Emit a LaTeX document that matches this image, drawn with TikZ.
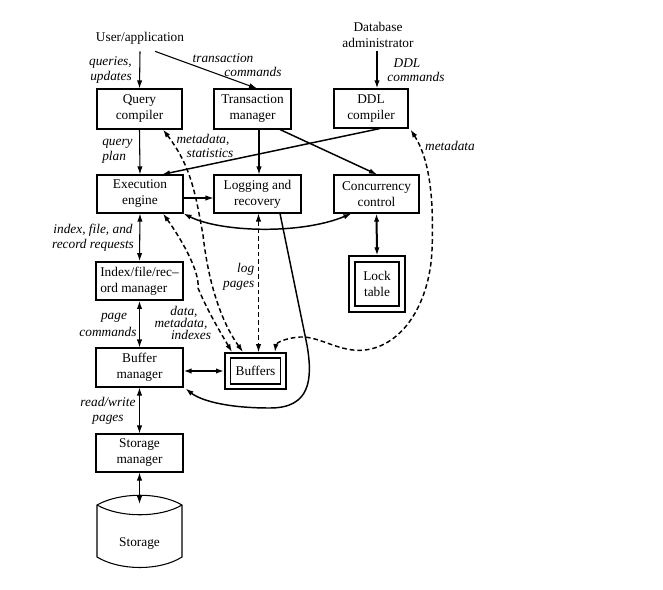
\documentclass[tikz,border=0pt]{standalone}
\usepackage{fontspec}
\setmainfont{Liberation Serif}
\usetikzlibrary{arrows.meta,calc}
\begin{document}
\begin{tikzpicture}[x=0.75pt,y=-0.75pt,
  >={Latex[length=6pt,width=4pt]},
  every node/.style={font=\fontsize{10}{12}\selectfont},
  box/.style={draw,line width=0.8pt,align=center,inner sep=0pt},
  lbl/.style={font=\fontsize{10}{11.5}\selectfont\itshape,inner sep=0pt},
  txt/.style={inner sep=0pt,align=center},
  ln/.style={line width=0.8pt},
  arr/.style={ln,->},
  marr/.style={line width=1.1pt,->},
  darr/.style={ln,<->},
  tarr/.style={line width=1.5pt,<->},
  dsh/.style={line width=1.1pt,dash pattern=on 3.5pt off 2.2pt,<->}
]
\useasboundingbox (0,0) rectangle (663,589);

% boxes
\node[box,minimum width=63.75pt,minimum height=30pt] (qc) at (139.5,109) {Query\\compiler};
\node[box,minimum width=57.75pt,minimum height=30pt] (tm) at (252.5,109) {Transaction\\manager};
\node[box,minimum width=55.5pt,minimum height=29.25pt] (ddl) at (371,108.5) {DDL\\compiler};
\node[box,minimum width=64.5pt,minimum height=28.5pt] (exec) at (140,194) {Execution\\engine};
\node[box,minimum width=65.25pt,minimum height=28.5pt] (log) at (257.5,194) {Logging and\\recovery};
\node[box,minimum width=63.75pt,minimum height=28.5pt] (cc) at (376.5,194) {Concurrency\\control};
\node[box,line width=1.4pt,align=left,minimum width=65.25pt,minimum height=28.5pt] (idx) at (139.5,281) {Index/file/rec--\\ord manager};
\node[box,minimum width=65.25pt,minimum height=29.25pt] (bm) at (139.5,367.5) {Buffer\\manager};
\node[box,minimum width=65.25pt,minimum height=28.5pt] (sm) at (139.5,453) {Storage\\manager};
\node[box,minimum width=42pt,minimum height=42pt] (lockO) at (377,284) {};
\node[box,line width=1.5pt,minimum width=33pt,minimum height=33pt] (lock) at (377,284) {Lock\\table};
\node[box,line width=1.4pt,minimum width=45.75pt,minimum height=27pt] (bufO) at (255.5,371) {};
\node[box,line width=1.3pt,minimum width=37.5pt,minimum height=19.5pt] (buf) at (255.5,371) {Buffers};

% storage cylinder
\draw[ln] (97,505) .. controls (120,492) and (160,492) .. (182,505) -- (182,557)
  .. controls (160,571) and (120,571) .. (97,557) -- cycle;
\draw[ln] (97,505) .. controls (120,518) and (160,518) .. (182,505);
\node[txt] (stor) at (139.5,544) {Storage};
\coordinate (stortop) at (139.5,504);

% plain texts
\node[txt] (user) at (140,38) {User/application};
\node[txt] (admin) at (378,35) {Database\\administrator};

% labels
\node[lbl] (tc1) at (223,58) {transaction};
\node[lbl] (tc2) at (253,72) {commands};
\node[lbl,align=right,anchor=east] (qu) at (132,70) {queries,\\updates};
\node[lbl] (dc1) at (407,63) {DDL};
\node[lbl] (dc2) at (416,77) {commands};
\node[lbl] (ms1) at (203,140) {metadata,};
\node[lbl] (ms2) at (210,153) {statistics};
\node[lbl,align=left,anchor=west] (qp) at (102,151.5) {query\\plan};
\node[lbl] (md) at (450,146) {metadata};
\node[lbl,align=center] (ifr) at (93,237.5) {index, file, and\\record requests};
\node[lbl,align=right,anchor=east] (lp) at (254.5,276.5) {log\\pages};
\node[lbl] (dm1) at (184,312) {data,};
\node[lbl] (dm2) at (181,323.5) {metadata,};
\node[lbl] (dm3) at (191,335) {indexes};
\node[lbl] (pc1) at (114,318) {page};
\node[lbl] (pc2) at (108,332) {commands};
\node[lbl,align=center] (rw) at (108,411) {read/write\\pages};

% connectors
\draw[arr] ($(user.south)+(0,7)$) -- (qc.north);
\draw[arr] ($(user.south)+(15,7)$) -- ($(tm.north)+(4.5,0)$);
\draw[line width=1.5pt,->] ($(ddl.north)+(6,-37)$) -- ($(ddl.north)+(6,0)$);
\draw[arr] (qc.south) -- (exec.north);
\draw[arr] ($(tm.south)+(6.5,0)$) -- ($(log.north)+(1.5,0)$);
\draw[marr] ($(tm.south)+(27.5,0)$) -- ($(cc.north)+(0.5,0)$);
\draw[marr] ($(ddl.south)+(9,0)$) -- ($(exec.north)+(22,0)$);
\draw[arr] ($(exec.east)+(0,4)$) -- ($(log.west)+(0,4)$);
\draw[line width=1.1pt,<->] (exec.south east) .. controls (220,232) and (300,235) .. ($(cc.south west)+(18,0)$);
\draw[darr] (exec.south) -- (idx.north);
\draw[darr] (idx.south) -- (bm.north);
\draw[darr] (bm.south) -- (sm.north);
\draw[darr] (sm.south) -- (stortop);
\draw[tarr] (cc.south) -- (lockO.north);
\draw[tarr] (bm.east |- bufO.west) -- (bufO.west);

% dashed
\draw[line width=0.6pt,dash pattern=on 3.5pt off 2.2pt,<->] ($(log.south)+(1,0)$) -- ($(bufO.north)+(3,0)$);
\draw[dsh] ($(qc.south)+(23.5,0)$) .. controls (190,165) and (195,190) .. (203,235)
  .. controls (208,280) and (220,320) .. ($(bufO.north)+(-12.5,0)$);
\draw[dsh] ($(exec.south)+(23,0)$) .. controls (182,240) and (200,272) .. (198,288)
  .. controls (208,312) and (222,335) .. ($(bufO.north)+(-23.5,0)$);
\draw[dsh] ($(ddl.south east)+(2,1)$) .. controls (430,160) and (434,200) .. (432,250)
  .. controls (430,300) and (405,345) .. (365,350)
  .. controls (340,353) and (320,336) .. (300,337)
  .. controls (285,338) and (276,343) .. ($(bufO.north)+(19.5,0)$);

% log -> buffer manager
\draw[line width=1.1pt,->] ($(log.south)+(22.5,0)$) -- (307,345)
  .. controls (313,380) and (310,408) .. (270,408)
  .. controls (225,408) and (200,400) .. ($(bm.south east)+(2,1)$);
\end{tikzpicture}
\end{document}
